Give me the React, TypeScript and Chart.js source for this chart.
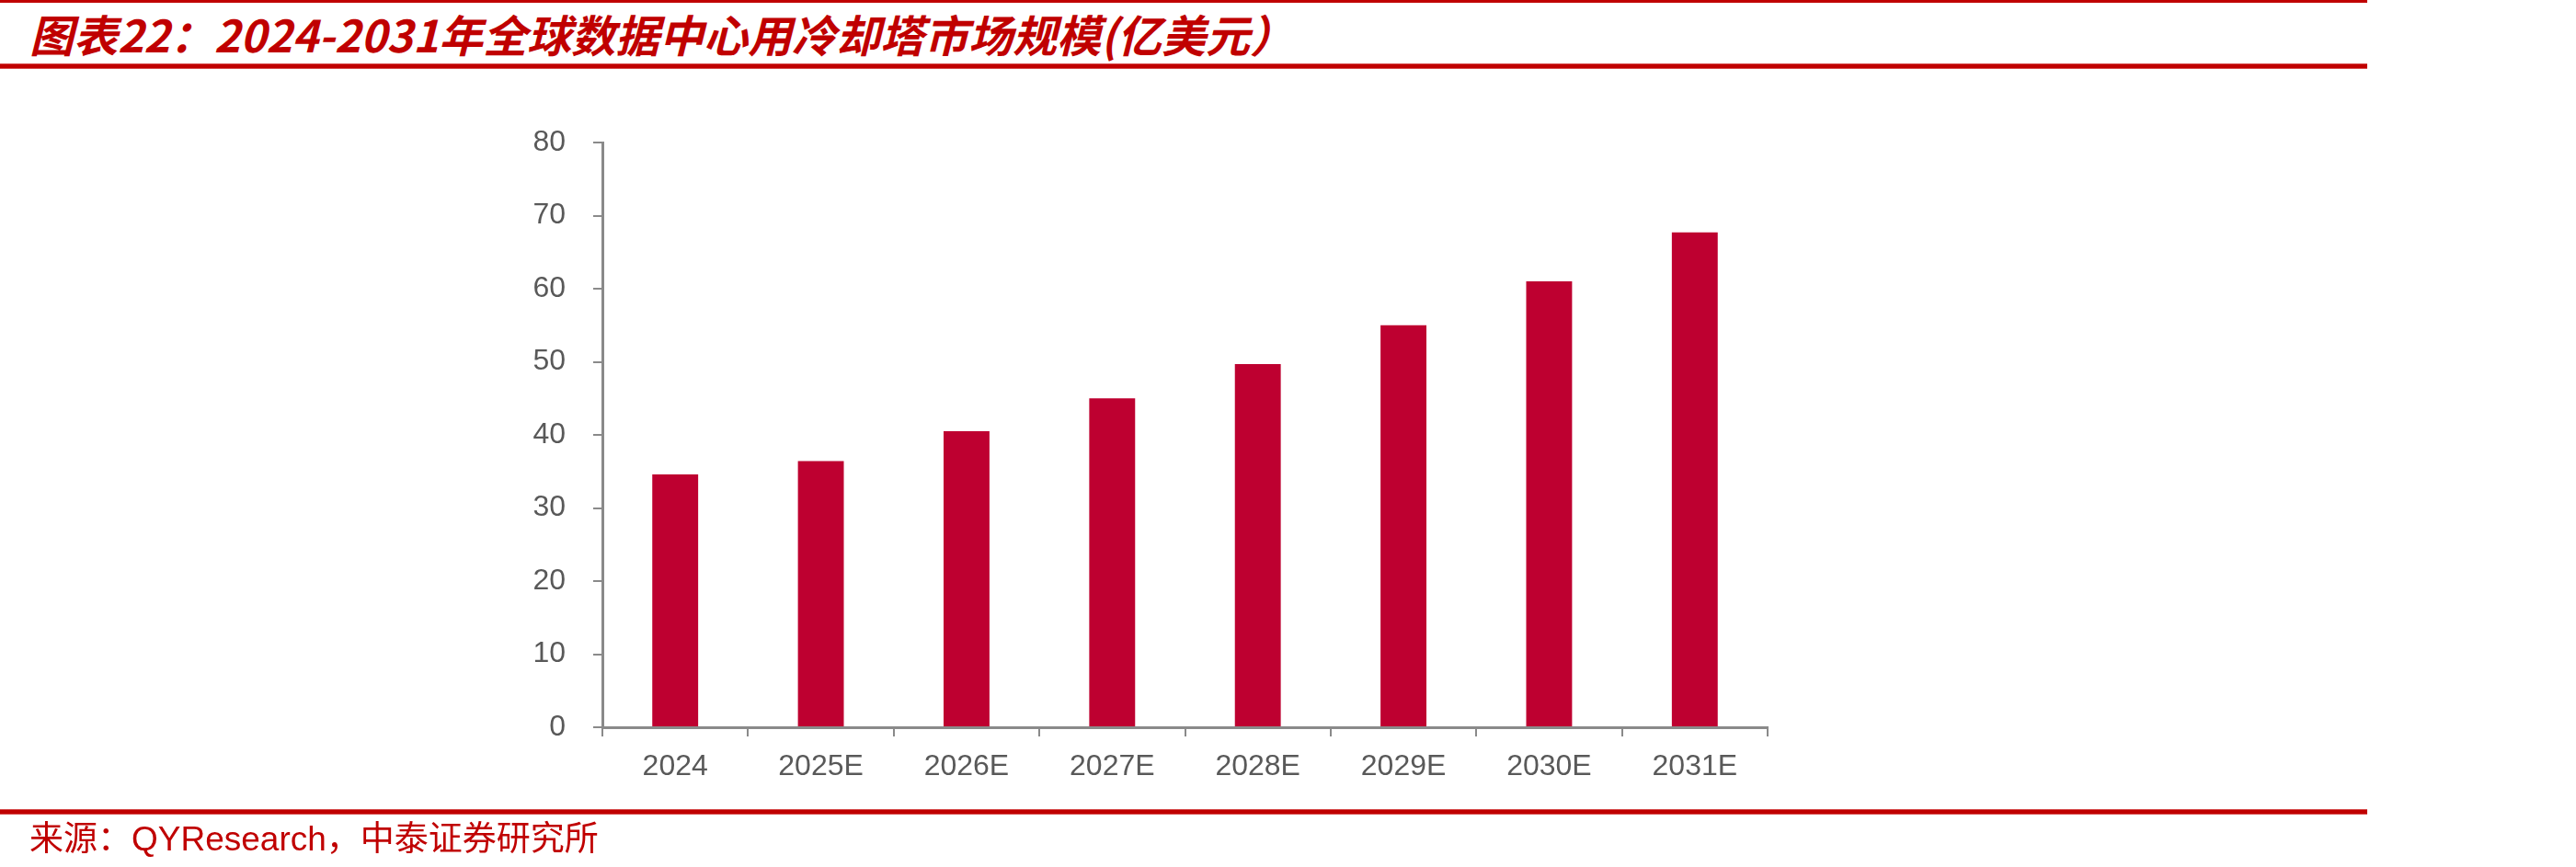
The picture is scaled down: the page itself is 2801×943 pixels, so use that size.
import React, { useEffect, useRef } from "react";
import { Chart, registerables } from "chart.js";

Chart.register(...registerables);

const categories = ["2024", "2025E", "2026E", "2027E", "2028E", "2029E", "2030E", "2031E"];
const marketSize = [34.6, 36.4, 40.5, 45.0, 49.7, 55.0, 61.0, 67.7];
const yTicks = [0, 10, 20, 30, 40, 50, 60, 70, 80];

const titleText = "图表22：2024-2031年全球数据中心用冷却塔市场规模(亿美元）";
const sourceText = "来源：QYResearch，中泰证券研究所";

const W = 2801;
const H = 943;
const RED = "#C00000";
const BAR = "#BE0030";
const AXIS = "#8A8A8A";

export default function App() {
  const ref = useRef<HTMLCanvasElement | null>(null);

  useEffect(() => {
    document.body.style.margin = "0";
    const canvas = ref.current;
    if (!canvas) return;
    const chart = new Chart(canvas, {
      type: "bar",
      data: {
        labels: categories,
        datasets: [
          {
            data: marketSize,
            backgroundColor: BAR,
            borderWidth: 0,
            barPercentage: 0.315,
            categoryPercentage: 1,
          },
        ],
      },
      options: {
        animation: false,
        responsive: false,
        devicePixelRatio: 1,
        layout: { padding: { left: 0, top: 155, right: 879, bottom: 0 } },
        plugins: { legend: { display: false }, tooltip: { enabled: false }, title: { display: false } },
        scales: {
          x: {
            offset: true,
            grid: {
              offset: true,
              drawOnChartArea: false,
              drawTicks: true,
              tickLength: 10,
              color: AXIS,
              lineWidth: 2,
            },
            border: { display: true, color: AXIS, width: 3 },
            ticks: {
              color: "#595959",
              font: { family: "Liberation Sans, Arial, sans-serif", size: 32 },
              padding: 14,
              maxRotation: 0,
              autoSkip: false,
            },
            afterFit: (s: any) => {
              s.height = H - 791;
            },
          },
          y: {
            min: 0,
            max: 80,
            afterBuildTicks: (s: any) => {
              s.ticks = yTicks.map((v) => ({ value: v }));
            },
            grid: {
              drawOnChartArea: false,
              drawTicks: true,
              tickLength: 10,
              color: AXIS,
              lineWidth: 2,
            },
            border: { display: true, color: AXIS, width: 3 },
            ticks: {
              color: "#595959",
              font: { family: "Liberation Sans, Arial, sans-serif", size: 32 },
              padding: 30,
            },
            afterFit: (s: any) => {
              s.width = 655;
            },
          },
        },
      },
    });
    return () => chart.destroy();
  }, []);

  return (
    <div
      style={{
        position: "absolute",
        left: 0,
        top: 0,
        width: W,
        height: H,
        background: "#fff",
        overflow: "hidden",
      }}
    >
      <div style={{ position: "absolute", left: 0, top: 0, width: 2574, height: 3, background: RED }} />
      <div
        style={{
          position: "absolute",
          left: 32,
          top: 11,
          fontFamily: "'Noto Sans CJK SC', sans-serif",
          fontWeight: 700,
          fontStyle: "italic",
          fontSize: 48,
          lineHeight: "50px",
          color: RED,
          whiteSpace: "nowrap",
        }}
      >
        {titleText}
      </div>
      <div
        style={{
          position: "absolute",
          left: 0,
          top: 69,
          width: 2574,
          height: 6,
          background: "linear-gradient(#e07070, #C00000 25%, #C00000 75%, #e07070)",
        }}
      />
      <canvas ref={ref} width={W} height={H} style={{ position: "absolute", left: 0, top: 0, width: W, height: H }} />
      <div
        style={{
          position: "absolute",
          left: 0,
          top: 880,
          width: 2574,
          height: 6,
          background: "linear-gradient(#e07070, #C00000 25%, #C00000 75%, #e07070)",
        }}
      />
      <div
        style={{
          position: "absolute",
          left: 32,
          top: 893,
          fontFamily: "'Liberation Sans', 'Noto Sans CJK SC', sans-serif",
          fontSize: 37,
          lineHeight: "39px",
          color: RED,
          whiteSpace: "nowrap",
        }}
      >
        {sourceText}
      </div>
    </div>
  );
}
